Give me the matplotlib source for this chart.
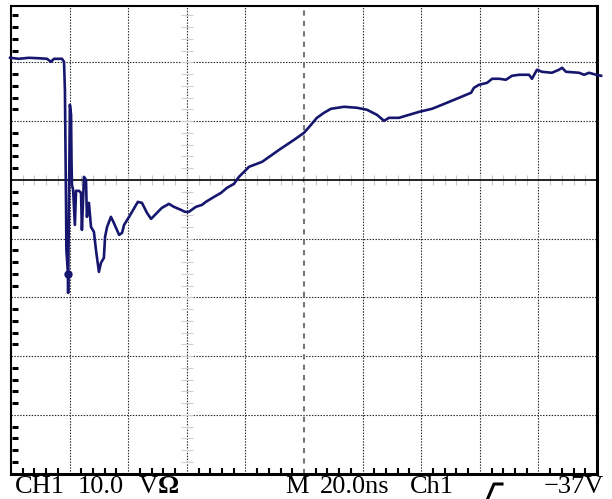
import numpy as np
import matplotlib
matplotlib.use('Agg')
import matplotlib.pyplot as plt
from matplotlib.lines import Line2D

# ---------------------------------------------------------------------------
# Captured trace (time in ns relative to trigger, voltage in V)
# ---------------------------------------------------------------------------

T_NS = [
    -100.3, -97.3, -93.9, -90.4, -87.7, -86.4, -85.3, -82.6, -81.9, -81.6,
    -81.4, -81.2, -81.1, -80.55, -80.5, -80.4, -80.2, -79.9, -79.5, -79.35,
    -79.2, -78.8, -78.2, -77.8, -76.8, -76.1, -75.8, -75.1, -74.4, -74.1,
    -73.4, -72.7, -71.7, -71.0, -70.0, -69.3, -68.3, -67.9, -67.2, -65.9,
    -64.9, -63.1, -62.1, -61.4, -59.7, -58.7, -56.7, -55.3, -53.6, -52.2,
    -51.5, -50.2, -48.5, -46.1, -44.4, -42.0, -40.6, -39.3, -36.9, -34.8,
    -33.5, -30.7, -28.3, -26.3, -23.9, -22.2, -19.8, -18.8, -14.3, -10.9,
    -8.5, -3.4, 0.0, 2.4, 4.4, 6.8, 9.2, 13.7, 18.1, 21.5,
    24.9, 27.3, 29.0, 32.4, 39.3, 43.7, 47.1, 52.9, 57.0, 58.0,
    59.7, 62.5, 64.2, 66.6, 68.9, 71.0, 73.4, 76.8, 77.8, 79.5,
    81.2, 84.6, 87.0, 88.1, 89.4, 93.9, 95.6, 97.3, 99.7, 101.4,
]
V_CH1 = [
    20.78, 20.61, 20.78, 20.70, 20.61, 20.10, 20.61, 20.61, 20.10, 15.33,
    5.11, -5.11, -11.93, -16.01, -19.25, -13.63, -3.41, 12.78, 11.07, 3.41,
    -0.85, -1.70, -7.67, -1.87, -1.87, -2.21, -8.52, 0.51, 0.0, -6.30,
    -3.92, -8.01, -8.86, -11.93, -15.67, -14.14, -13.29, -9.71, -8.01, -6.30,
    -7.33, -9.37, -9.03, -7.67, -6.30, -5.45, -3.75, -3.92, -5.62, -6.64,
    -6.30, -5.62, -4.77, -4.09, -4.60, -5.11, -5.45, -5.45, -4.60, -4.26,
    -3.75, -2.90, -2.21, -1.36, -0.68, 0.51, 1.70, 2.21, 3.07, 4.26,
    5.11, 6.81, 8.01, 9.37, 10.56, 11.41, 12.10, 12.44, 12.27, 11.93,
    11.07, 10.05, 10.56, 10.56, 11.58, 12.10, 12.78, 13.97, 14.82, 15.67,
    16.18, 16.52, 17.21, 17.21, 17.04, 17.72, 17.89, 17.89, 17.21, 18.74,
    18.40, 18.23, 18.74, 19.08, 18.40, 18.23, 17.89, 18.23, 17.89, 17.72,
]

# cursor dot on the falling edge
DOT_T, DOT_V = -80.55, -16.01

# screen settings
NS_DIV = 20.0
V_DIV = 10.0
T_MIN, T_MAX = -100.0, 100.0
V_MIN, V_MAX = -50.0, 29.6

W, H = 612, 499


def fx(px):
    return px / W


def fy(py):
    return (H - py) / H


fig = plt.figure(figsize=(W / 100, H / 100), dpi=100)
fig.patch.set_facecolor('white')

ax = fig.add_axes([fx(11), fy(473.5), (597 - 11) / W, (473.5 - 6) / H])
ax.set_xlim(T_MIN, T_MAX)
ax.set_ylim(V_MIN, V_MAX)
ax.set_xticks([])
ax.set_yticks([])
for side, lw in (('top', 1.5), ('left', 1.5), ('right', 2.2), ('bottom', 2.2)):
    ax.spines[side].set_linewidth(lw)
    ax.spines[side].set_color('black')

dot_style = dict(color='#2a2a2a', linewidth=0.8, linestyle=(0, (1.3, 1.3)))

# horizontal graticule
for v in np.arange(-40, 30, V_DIV):
    if v == 0:
        ax.axhline(v, color='black', linewidth=1.2, zorder=2)
    else:
        ax.axhline(v, **dot_style, zorder=1)

# vertical graticule
for t in np.arange(-80, 100, NS_DIV):
    if t == 0:
        ax.axvline(t, color='#777777', linewidth=1.5,
                   linestyle=(0, (2.5, 2.5)), zorder=1)
    else:
        ax.axvline(t, **dot_style, zorder=1)

# faint minor ticks along the 0 V line and the -40 ns line
minor_t = np.arange(-96, 100, NS_DIV / 5)
ax.vlines(minor_t, -0.9, 0.9, color='#c8c8c8', linewidth=0.8, zorder=1)
minor_v = np.arange(-48, 30, V_DIV / 5)
ax.hlines(minor_v, -42.0, -38.0, color='#d0d0d0', linewidth=0.8, zorder=1)

# black border ticks (left and bottom)
left_v = [v for v in np.arange(-48, 30, V_DIV / 5) if v % V_DIV != 0]
ax.hlines(left_v, -99.6, -97.6, color='black', linewidth=2.2,
          clip_on=False, zorder=3)
bot_t = [t for t in np.arange(-96, 100, NS_DIV / 5) if t % NS_DIV != 0]
ax.vlines(bot_t, V_MIN, V_MIN + 1.0, color='black', linewidth=1.5,
          clip_on=False, zorder=3)

# the trace
ax.plot(T_NS, V_CH1, color='#16166e', linewidth=1.9, solid_joinstyle='round',
        clip_on=False, zorder=4)
ax.plot([DOT_T], [DOT_V], 'o', color='#16166e', markersize=5, zorder=5)

# status line
txt = dict(family='Liberation Serif', fontsize=19, color='black',
           va='baseline', ha='left')
base = fy(493)
fig.text(fx(15), base, 'CH1', **txt)
fig.text(fx(78), base, '10.0', **txt)
fig.text(fx(139), base, 'V', **txt)
fig.text(fx(158), base, 'Ω', fontweight='bold', **txt)
fig.text(fx(285), base, 'M', **txt)
fig.text(fx(320), base, '20.0ns', **txt)
fig.text(fx(410), base, 'Ch1', **txt)
fig.text(fx(544), base, '−37V', **txt)

# trigger slope symbol
fig.add_artist(Line2D([fx(488), fx(494), fx(502)], [fy(498), fy(484), fy(484)],
                      color='black', linewidth=2.2, transform=fig.transFigure))

fig.savefig('out.png', dpi=100)
